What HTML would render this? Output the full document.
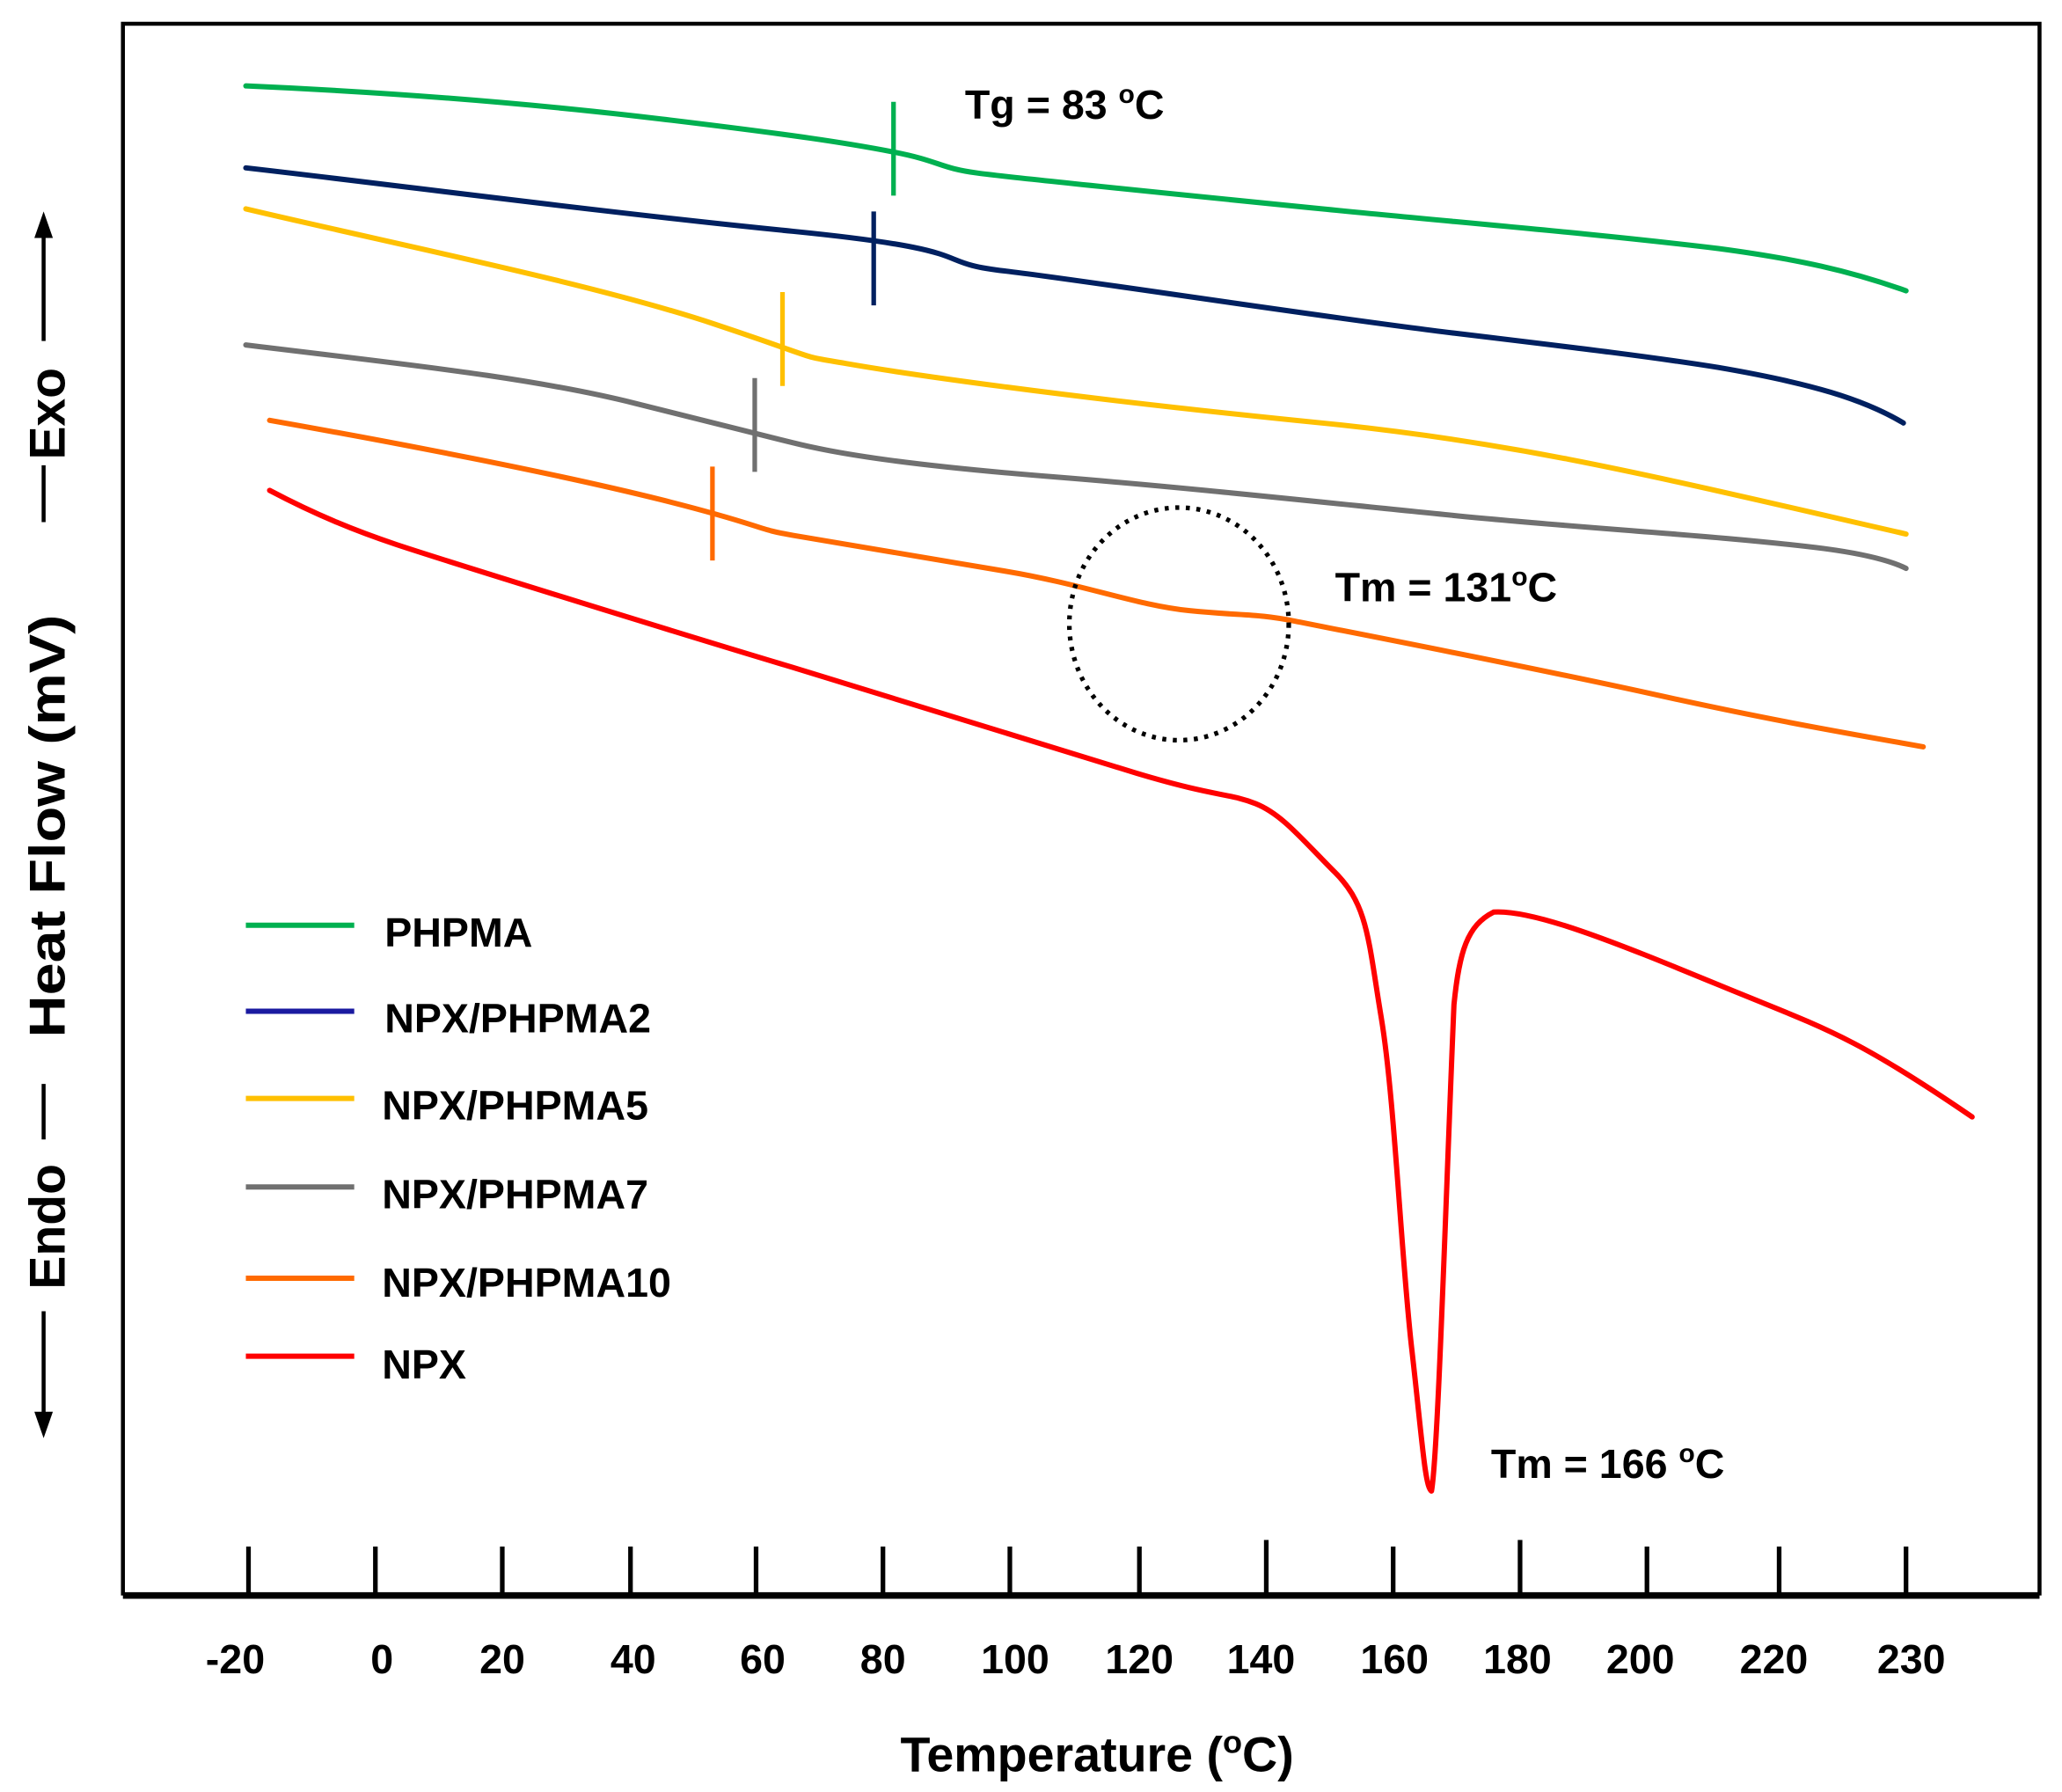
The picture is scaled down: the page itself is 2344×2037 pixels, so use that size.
<!DOCTYPE html>
<html><head><meta charset="utf-8"><style>html,body{margin:0;padding:0;background:#fff}svg{display:block}</style></head>
<body>
<svg width="2344" height="2037" viewBox="0 0 1560 1355.7" preserveAspectRatio="none" xmlns="http://www.w3.org/2000/svg" font-family="Liberation Sans, sans-serif" font-weight="bold">
<rect width="1560" height="1356" fill="#fff"/>
<path d="M93,1207 V18 H1543 V1207" fill="none" stroke="#000" stroke-width="3"/>
<line x1="93" y1="1207" x2="1543" y2="1207" stroke="#000" stroke-width="5"/>
<g stroke="#000" stroke-width="3.5">
<line x1="188" y1="1170" x2="188" y2="1207"/><line x1="284" y1="1170" x2="284" y2="1207"/><line x1="380" y1="1170" x2="380" y2="1207"/><line x1="477" y1="1170" x2="477" y2="1207"/><line x1="572" y1="1170" x2="572" y2="1207"/><line x1="668" y1="1170" x2="668" y2="1207"/><line x1="764" y1="1170" x2="764" y2="1207"/><line x1="862" y1="1170" x2="862" y2="1207"/><line x1="958" y1="1165" x2="958" y2="1207"/><line x1="1054" y1="1170" x2="1054" y2="1207"/><line x1="1150" y1="1165" x2="1150" y2="1207"/><line x1="1246" y1="1170" x2="1246" y2="1207"/><line x1="1346" y1="1170" x2="1346" y2="1207"/><line x1="1442" y1="1170" x2="1442" y2="1207"/>
</g>
<g font-size="31" text-anchor="middle" fill="#000">
<text x="178" y="1266">-20</text><text x="289" y="1266">0</text><text x="380" y="1266">20</text><text x="479" y="1266">40</text><text x="577" y="1266">60</text><text x="668" y="1266">80</text><text x="768" y="1266">100</text><text x="862" y="1266">120</text><text x="954" y="1266">140</text><text x="1055" y="1266">160</text><text x="1148" y="1266">180</text><text x="1241" y="1266">200</text><text x="1342" y="1266">220</text><text x="1446" y="1266">230</text>
</g>
<text x="830" y="1340" font-size="37" text-anchor="middle">Temperature (<tspan font-size="24" dy="-14">o</tspan><tspan dy="14">C)</tspan></text>
<g stroke="#000" stroke-width="3">
<line x1="33" y1="175" x2="33" y2="258"/><line x1="33" y1="352" x2="33" y2="395"/><line x1="33" y1="820" x2="33" y2="862"/><line x1="33" y1="992" x2="33" y2="1075"/>
</g>
<polygon points="33,160 26,180 40,180" fill="#000"/>
<polygon points="33,1088 26,1068 40,1068" fill="#000"/>
<g font-size="38" fill="#000" text-anchor="middle">
<text transform="translate(49,313) rotate(-90)">Exo</text>
<text transform="translate(49,625) rotate(-90)" textLength="320" lengthAdjust="spacingAndGlyphs">Heat Flow (mV)</text>
<text transform="translate(49,928) rotate(-90)">Endo</text>
</g>
<g fill="none" stroke-width="4" stroke-linejoin="round" stroke-linecap="round">
<path stroke="#00b050" d="M186,65 C300,70 400,78 500,90 S640,108 676,115 S710,127 740,131 S900,148 1000,158 S1200,176 1300,188 C1360,196 1400,205 1442,220"/>
<path stroke="#002060" d="M186,127 C300,140 450,160 600,175 S700,198 760,205 S1000,240 1100,252 S1250,270 1300,278 C1370,290 1410,302 1440,320"/>
<path stroke="#ffc000" d="M186,158 C300,185 450,215 540,245 S600,268 640,275 S800,300 1000,320 C1150,335 1250,360 1442,404"/>
<path stroke="#707070" d="M186,261 C300,275 400,285 480,305 S560,325 600,335 S700,353 800,361 S1000,380 1100,390 S1300,405 1380,415 C1410,419 1430,424 1442,430"/>
<path stroke="#ff6a00" d="M204,318 C300,335 420,358 500,378 S570,400 600,405 S700,422 760,432 S860,458 900,462 S950,464 980,470 S1150,503 1250,525 S1400,555 1455,565"/>
<path stroke="#ff0000" d="M204,371 C240,390 270,402 300,412 S500,475 600,505 S800,567 860,585 S930,600 950,608 S985,635 1010,660 S1035,710 1045,770 S1060,950 1068,1020 S1078,1125 1083,1128 C1088,1100 1094,900 1100,760 C1104,720 1110,700 1130,690 C1160,688 1220,712 1300,745 S1400,782 1492,845"/>
</g>
<g stroke-width="3.5">
<line x1="676" y1="77" x2="676" y2="148" stroke="#00b050"/>
<line x1="661" y1="160" x2="661" y2="231" stroke="#002060"/>
<line x1="592" y1="221" x2="592" y2="292" stroke="#ffc000"/>
<line x1="571" y1="286" x2="571" y2="357" stroke="#707070"/>
<line x1="539" y1="353" x2="539" y2="424" stroke="#ff6a00"/>
</g>
<ellipse cx="892" cy="472" rx="83" ry="88" fill="none" stroke="#000" stroke-width="3.5" stroke-dasharray="3,5"/>
<g font-size="31" fill="#000">
<text x="730" y="90">Tg = 83 <tspan font-size="20" dy="-12">o</tspan><tspan dy="12">C</tspan></text>
<text x="1010" y="455">Tm = 131<tspan font-size="20" dy="-12">o</tspan><tspan dy="12">C</tspan></text>
<text x="1128" y="1118">Tm = 166 <tspan font-size="20" dy="-12">o</tspan><tspan dy="12">C</tspan></text>
</g>
<g stroke-width="4">
<line x1="186" y1="700" x2="268" y2="700" stroke="#00b050"/>
<line x1="186" y1="765" x2="268" y2="765" stroke="#1a1aa0"/>
<line x1="186" y1="831" x2="268" y2="831" stroke="#ffc000"/>
<line x1="186" y1="898" x2="268" y2="898" stroke="#707070"/>
<line x1="186" y1="967" x2="268" y2="967" stroke="#ff6a00"/>
<line x1="186" y1="1026" x2="268" y2="1026" stroke="#ff0000"/>
</g>
<g font-size="31" fill="#000">
<text x="291" y="716">PHPMA</text>
<text x="291" y="781">NPX/PHPMA2</text>
<text x="289" y="847">NPX/PHPMA5</text>
<text x="289" y="914">NPX/PHPMA7</text>
<text x="289" y="981">NPX/PHPMA10</text>
<text x="289" y="1043">NPX</text>
</g>
</svg>
</body></html>
